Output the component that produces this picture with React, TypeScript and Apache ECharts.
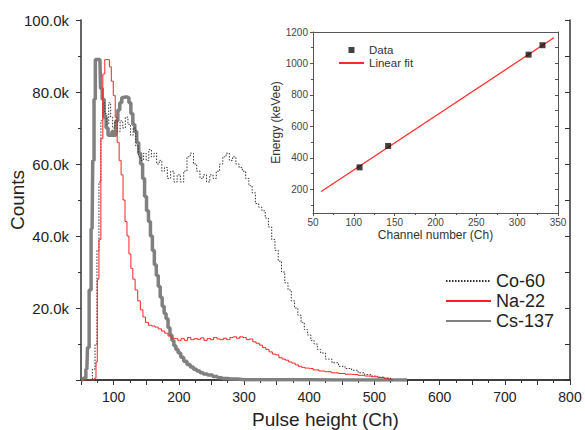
import React, { useEffect, useRef } from "react";
import * as echarts from "echarts";

// Co-60 spectrum (channel, counts in thousands)
const coChannel = [50, 65, 70, 73, 76, 79, 82, 85, 88, 91, 94, 97, 100, 104, 108, 112, 116, 120, 124, 128, 132, 136, 140, 144, 148, 152, 156, 160, 164, 168, 172, 176, 180, 185, 190, 195, 200, 205, 210, 215, 220, 225, 230, 235, 240, 245, 250, 255, 260, 265, 270, 275, 280, 285, 290, 295, 300, 305, 310, 315, 320, 325, 330, 335, 340, 345, 350, 355, 360, 365, 370, 375, 380, 385, 390, 395, 400, 405, 410, 415, 420, 430, 440, 450, 460, 470, 480, 490, 500, 510, 520, 530];
const coCountsK = [0, 0, 3, 10, 36, 55, 72, 77, 74, 71, 77, 73, 70, 72, 69, 72, 70, 73, 71, 68, 70, 65, 62, 61, 63, 61, 64, 62, 63, 60, 61, 58, 59, 56, 58, 55, 57, 55, 58, 62, 63, 60, 58, 56, 57, 55, 57, 56, 58, 60, 62, 63, 61, 62, 60, 59, 58, 56, 54, 52, 49, 48, 47, 45, 42.5, 39, 36, 33, 30, 27, 25, 22, 20, 18, 16, 14, 12.5, 11, 10, 8.5, 7.5, 5.8, 4.8, 3.8, 3.2, 2.7, 2, 1.5, 1.1, 0.8, 0.5, 0];

// Na-22 spectrum
const naChannel = [50, 70, 72, 74, 76, 79, 82, 85, 88, 92, 95, 98, 101, 104, 107, 110, 113, 116, 119, 122, 125, 128, 131, 135, 139, 143, 147, 151, 156, 161, 166, 171, 176, 181, 186, 191, 196, 201, 206, 211, 216, 221, 226, 231, 236, 241, 246, 251, 256, 261, 266, 271, 276, 281, 286, 291, 296, 301, 306, 311, 316, 321, 326, 331, 336, 341, 346, 351, 356, 361, 366, 371, 376, 381, 386, 391, 396, 402, 410, 420, 428, 440, 450, 460, 470, 480, 490, 500, 510, 520, 525];
const naCountsK = [0, 0, 0.5, 5, 28, 39, 67, 85, 89, 89, 87, 83, 79, 73, 66, 61, 57, 50, 44, 40, 35, 31, 28, 25, 22, 19.5, 17.5, 16, 15.2, 15, 14.7, 14.2, 13.6, 13, 12.2, 11.6, 11.5, 11, 11.5, 11, 11.8, 11.2, 11.5, 11.3, 11.7, 11, 11.5, 11.2, 11.8, 11.4, 11.2, 11.6, 11.2, 11.8, 12, 11.6, 12, 11.8, 11.2, 11.4, 10.6, 10.2, 9.7, 9, 8.5, 7.8, 7.2, 7, 6.2, 5.8, 5.5, 5, 4.7, 4.2, 3.8, 3.5, 3.3, 3.2, 2.8, 2.5, 2.3, 2, 1.8, 1.6, 1.5, 1.3, 1.1, 0.9, 0.7, 0.5, 0];

// Cs-137 spectrum
const csChannel = [50, 56, 59, 61, 64, 67, 69, 71, 73, 76, 79, 81, 84, 87, 90, 93, 96, 99, 102, 105, 108, 111, 114, 118, 122, 125, 128, 131, 134, 137, 140, 143, 146, 149, 152, 155, 158, 161, 164, 167, 170, 173, 176, 179, 182, 185, 188, 191, 194, 197, 201, 205, 210, 215, 220, 225, 230, 235, 240, 248, 256, 263, 270, 280, 300, 350, 450, 550];
const csCountsK = [0, 0.5, 3, 9, 25, 42, 61, 78, 89, 89, 89, 81, 78, 73, 70, 68, 68, 69, 68, 72, 75, 77, 78.5, 78.6, 78.5, 77, 74, 71, 69, 66, 63, 60, 56, 51, 47, 44, 40, 36, 32, 29, 26, 23, 20.5, 18.5, 17, 14.5, 12.5, 11, 9.5, 8.5, 7.5, 6.3, 5.2, 4.3, 3.6, 3, 2.5, 2, 1.7, 1.4, 1, 0.6, 0.4, 0.25, 0.1, 0.05, 0.02, 0];

// Calibration (inset)
const calibChannel = [107, 142, 314, 331];
const calibEnergy = [340, 476, 1056, 1116];
const fitChannelRange = [60, 345];

const insetYMajor = [200, 400, 600, 800, 1000, 1200];
const insetYMinor = [100, 300, 500, 700, 900, 1100];

function toPairs(xs: number[], ys: number[], scale: number) {
  return xs.map((x, i) => [x, ys[i] * scale]);
}

function leastSquares(xs: number[], ys: number[]) {
  const n = xs.length;
  const mx = xs.reduce((a, b) => a + b, 0) / n;
  const my = ys.reduce((a, b) => a + b, 0) / n;
  let sxx = 0;
  let sxy = 0;
  for (let i = 0; i < n; i++) {
    sxx += (xs[i] - mx) * (xs[i] - mx);
    sxy += (xs[i] - mx) * (ys[i] - my);
  }
  const a = sxy / sxx;
  return { a, b: my - a * mx };
}

export default function App() {
  const ref = useRef<HTMLDivElement>(null);
  useEffect(() => {
    const chart = echarts.init(ref.current!, null, { renderer: "svg" });
    const fit = leastSquares(calibChannel, calibEnergy);
    const fitData = fitChannelRange.map((x) => [x, fit.a * x + fit.b]);
    const font = "'Liberation Sans', Arial, sans-serif";
    const dark = "#222";
    const frame = { lineStyle: { color: "#333", width: 1.5 } };
    const insetFrame = { lineStyle: { color: "#555", width: 1 } };
    const noSymbol = { itemStyle: { opacity: 0 } };

    chart.setOption({
      animation: false,
      textStyle: { fontFamily: font },
      grid: [
        { left: 81, right: 15, top: 20, bottom: 50, outerBoundsMode: "none", containLabel: false },
        { left: 313, right: 27, top: 32, bottom: 217, outerBoundsMode: "none", containLabel: false },
      ],
      xAxis: [
        {
          gridIndex: 0, type: "value", min: 50, max: 800, interval: 50, position: "bottom",
          axisLine: frame,
          axisTick: { inside: false, length: 5, lineStyle: { color: "#333" } },
          axisLabel: { formatter: (v: number) => (v % 100 === 0 ? String(v) : ""), fontSize: 14, color: dark, margin: 10 },
          splitLine: { show: false },
          name: "Pulse height (Ch)", nameLocation: "middle", nameGap: 30, nameMoveOverlap: false,
          nameTextStyle: { fontSize: 19, color: dark },
        },
        {
          gridIndex: 0, type: "value", min: 50, max: 800, interval: 50, position: "top",
          axisLine: frame,
          axisTick: { inside: true, length: 5, lineStyle: { color: "#333" } },
          minorTick: { show: true, splitNumber: 2, length: 3, lineStyle: { color: "#333" } },
          axisLabel: { show: false }, splitLine: { show: false },
        },
        {
          gridIndex: 1, type: "value", min: 50, max: 350, interval: 50, position: "bottom",
          axisLine: insetFrame,
          axisTick: { inside: false, length: 3, lineStyle: { color: "#555" } },
          minorTick: { show: true, splitNumber: 2, length: 2, lineStyle: { color: "#555" } },
          axisLabel: { fontSize: 10, color: "#444", margin: 4 },
          splitLine: { show: false },
          name: "Channel number (Ch)", nameLocation: "middle", nameGap: 16,
          nameTextStyle: { fontSize: 12, color: "#333" },
        },
        {
          gridIndex: 1, type: "value", min: 50, max: 350, interval: 50, position: "top",
          axisLine: insetFrame,
          axisTick: { show: false }, axisLabel: { show: false }, splitLine: { show: false },
        },
      ],
      yAxis: [
        {
          gridIndex: 0, type: "value", min: 0, max: 100000, interval: 20000, position: "left",
          axisLine: { show: true, ...frame },
          axisTick: { inside: false, length: 5, lineStyle: { color: "#333" } },
          minorTick: { show: true, splitNumber: 2, length: 3, lineStyle: { color: "#333" } },
          axisLabel: {
            formatter: (v: number) => (v === 0 ? "" : (v / 1000).toFixed(1) + "k"),
            fontSize: 15, color: dark, margin: 12,
          },
          splitLine: { show: false },
          name: "Counts", nameLocation: "middle", nameGap: 54, nameRotate: 90, nameMoveOverlap: false,
          nameTextStyle: { fontSize: 19, color: dark },
        },
        {
          gridIndex: 0, type: "value", min: 0, max: 100000, interval: 10000, position: "right",
          axisLine: { show: true, ...frame },
          axisTick: { inside: true, length: 5, lineStyle: { color: "#333" } },
          axisLabel: { show: false }, splitLine: { show: false },
        },
        {
          gridIndex: 1, type: "value", min: 50, max: 1200, position: "left",
          axisLine: { show: true, ...insetFrame },
          axisTick: { inside: false, length: 3, customValues: insetYMajor, lineStyle: { color: "#555" } },
          axisLabel: { fontSize: 10, color: "#444", margin: 5, customValues: insetYMajor, formatter: (v: number) => String(v) },
          splitLine: { show: false },
          name: "Energy (keVee)", nameLocation: "middle", nameGap: 24, nameRotate: 90,
          nameTextStyle: { fontSize: 12, color: "#333" },
        },
        {
          gridIndex: 1, type: "value", min: 50, max: 1200, position: "left",
          axisLine: { show: false },
          axisTick: { inside: false, length: 2, customValues: insetYMinor, lineStyle: { color: "#555" } },
          axisLabel: { show: false }, splitLine: { show: false },
        },
        {
          gridIndex: 1, type: "value", min: 50, max: 1200, position: "right",
          axisLine: { show: true, ...insetFrame },
          axisTick: { inside: true, length: 3, customValues: insetYMinor.concat(insetYMajor), lineStyle: { color: "#555" } },
          axisLabel: { show: false }, splitLine: { show: false },
        },
      ],
      legend: [
        {
          data: [
            { name: "Co-60", ...noSymbol },
            { name: "Na-22", ...noSymbol },
            { name: "Cs-137", ...noSymbol },
          ],
          orient: "vertical", left: 440, top: 267,
          itemWidth: 45, itemHeight: 14, itemGap: 2,
          textStyle: { fontSize: 18, color: dark, fontFamily: font },
        },
        {
          data: [
            { name: "Data", icon: "path://M0,0L1,0L1,1L0,1Z" },
            { name: "Linear fit", ...noSymbol },
          ],
          orient: "vertical", left: 333, top: 39,
          itemWidth: 25, itemHeight: 6, itemGap: 1, symbolKeepAspect: true,
          textStyle: { fontSize: 11.5, color: "#333", fontFamily: font },
        },
      ],
      series: [
        {
          name: "Cs-137", type: "line", xAxisIndex: 0, yAxisIndex: 0, step: "middle", symbol: "none",
          data: toPairs(csChannel, csCountsK, 1000),
          lineStyle: { color: "#808080", width: 3.5 }, itemStyle: { color: "#808080" },
        },
        {
          name: "Co-60", type: "line", xAxisIndex: 0, yAxisIndex: 0, step: "middle", symbol: "none",
          data: toPairs(coChannel, coCountsK, 1000),
          lineStyle: { color: "#333", width: 1, type: [1.5, 1.5] }, itemStyle: { color: "#333" },
        },
        {
          name: "Na-22", type: "line", xAxisIndex: 0, yAxisIndex: 0, step: "middle", symbol: "none",
          data: toPairs(naChannel, naCountsK, 1000),
          lineStyle: { color: "#ff2020", width: 1 }, itemStyle: { color: "#ff2020" },
        },
        {
          name: "Linear fit", type: "line", xAxisIndex: 2, yAxisIndex: 2, symbol: "none",
          data: fitData, lineStyle: { color: "#ff2a2a", width: 1.2 }, itemStyle: { color: "#ff2a2a" }, z: 3,
        },
        {
          name: "Data", type: "scatter", xAxisIndex: 2, yAxisIndex: 2, symbol: "rect", symbolSize: 6,
          data: calibChannel.map((c, i) => [c, calibEnergy[i]]), itemStyle: { color: "#111" }, z: 4,
        },
      ],
    });
    return () => chart.dispose();
  }, []);
  return <div ref={ref} style={{ width: 585, height: 430, position: "absolute", left: 0, top: 0 }} />;
}
